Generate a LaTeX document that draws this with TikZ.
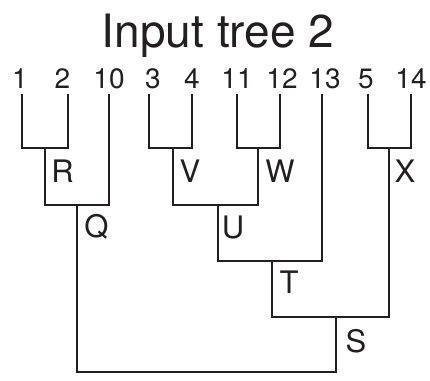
\documentclass[tikz,border=0pt]{standalone}
\usepackage{fontspec}
\setmainfont{TeX Gyre Heros}
\definecolor{ink}{HTML}{231F20}
\begin{document}
\begin{tikzpicture}[x=1pt,y=-1pt,
  edge/.style={draw=ink,line width=2.8pt,line join=miter,line cap=butt},
  leaf/.style={anchor=base,inner sep=0pt,text=ink,font=\fontsize{28}{31}\selectfont},
  lab/.style={anchor=base,inner sep=0pt,text=ink,font=\fontsize{31}{34}\selectfont},
  ttl/.style={anchor=base,inner sep=0pt,text=ink,font=\fontsize{46}{50}\selectfont}]
\useasboundingbox (0,0) rectangle (430,380);
% title
\node[ttl] (title) at (218,47) {Input tree 2};
% leaf texts
\node[leaf] (t1) at (20,88) {1};
\node[leaf] (t2) at (62.5,88) {2};
\node[leaf] (t10) at (109,88) {10};
\node[leaf] (t3) at (153,88) {3};
\node[leaf] (t4) at (192,88) {4};
\node[leaf] (t11) at (237,88) {11};
\node[leaf] (t12) at (282,88) {12};
\node[leaf] (t13) at (325,88) {13};
\node[leaf] (t5) at (366,88) {5};
\node[leaf] (t14) at (411,88) {14};
% leaf line tops
\coordinate (l1) at (22,94);
\coordinate (l2) at (68,94);
\coordinate (l10) at (109,94);
\coordinate (l3) at (149,94);
\coordinate (l4) at (192,94);
\coordinate (l11) at (237,94);
\coordinate (l12) at (280,94);
\coordinate (l13) at (322,94);
\coordinate (l5) at (368,94);
\coordinate (l14) at (411,94);
% internal junctions
\coordinate (R) at (45,148);
\coordinate (V) at (173,148);
\coordinate (W) at (258,148);
\coordinate (X) at (389,148);
\coordinate (Q) at (77,205);
\coordinate (U) at (218,205);
\coordinate (T) at (272,261);
\coordinate (S) at (336,317);
\coordinate (root) at (206,372);
% connectors
\draw[edge] (l1) |- (R) -| (l2);
\draw[edge] (l3) |- (V) -| (l4);
\draw[edge] (l11) |- (W) -| (l12);
\draw[edge] (l5) |- (X) -| (l14);
\draw[edge] (R) |- (Q) -| (l10);
\draw[edge] (V) |- (U) -| (W);
\draw[edge] (U) |- (T) -| (l13);
\draw[edge] (T) |- (S) -| (X);
\draw[edge] (Q) |- (root) -| (S);
% internal labels
\node[lab] (lR) at (62.5,182) {R};
\node[lab] (lV) at (190,182) {V};
\node[lab] (lW) at (280,182) {W};
\node[lab] (lX) at (405,182) {X};
\node[lab] (lQ) at (96.5,237) {Q};
\node[lab] (lU) at (233,238) {U};
\node[lab] (lT) at (289,293) {T};
\node[lab] (lS) at (356,352) {S};
\end{tikzpicture}
\end{document}
